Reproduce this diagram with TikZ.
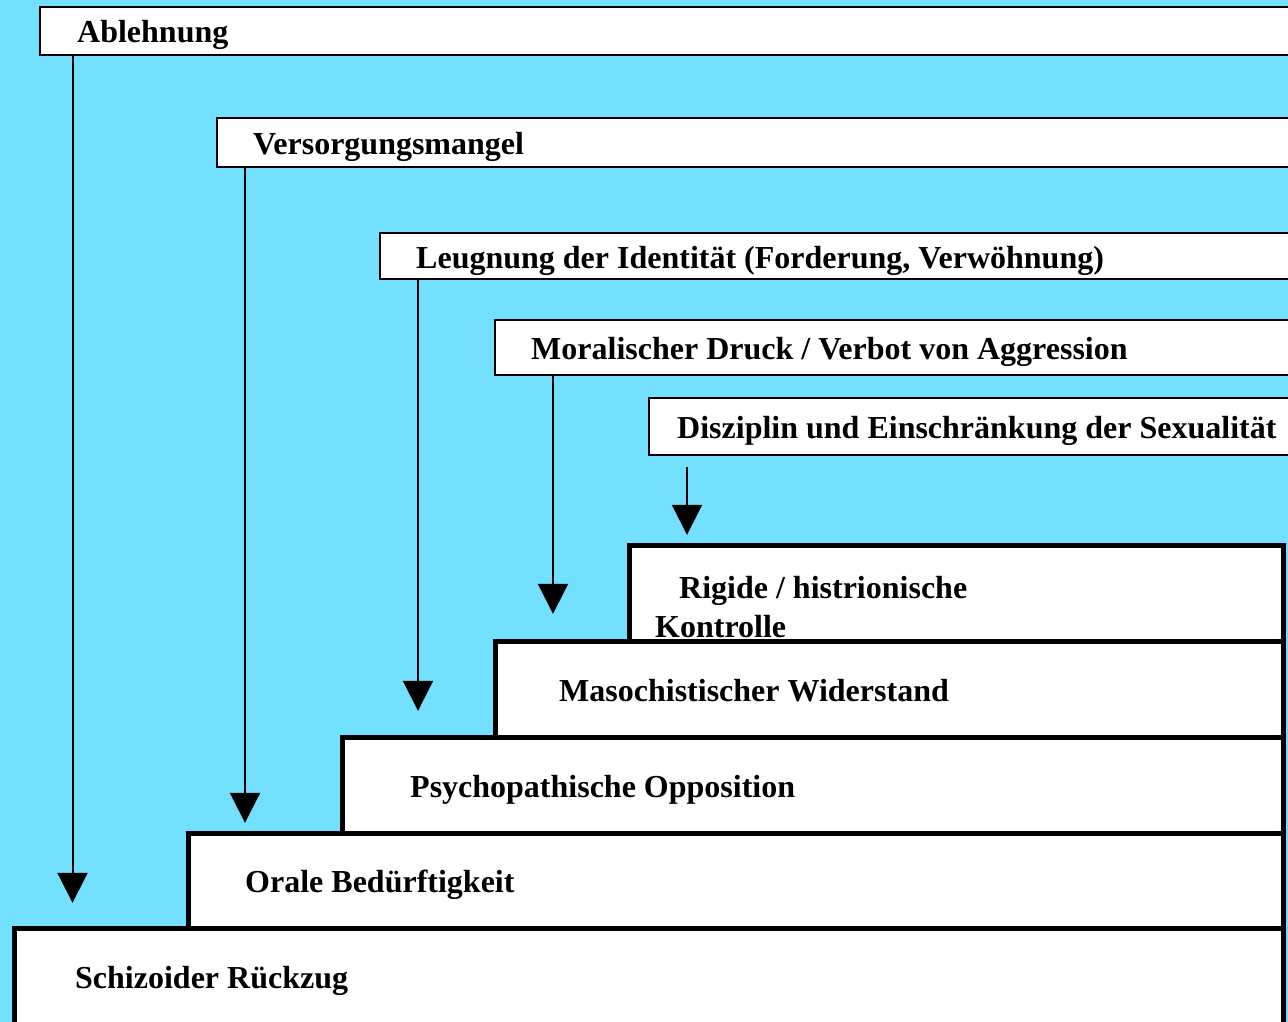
\documentclass[tikz,border=0pt]{standalone}
\usepackage{fontspec}
\setmainfont{Liberation Serif}
\usetikzlibrary{arrows.meta}
\definecolor{bgcyan}{RGB}{115,224,255}
\tikzset{
  topbox/.style={draw=black,fill=white,line width=2pt},
  stepbox/.style={draw=black,fill=white,line width=5pt},
  lbl/.style={anchor=base west,inner sep=0pt,font=\bfseries\fontsize{32}{38}\selectfont},
  arr/.style={line width=2pt,-{Triangle[width=30pt,length=30pt]}},
  anc/.style={inner sep=0pt,minimum size=0pt}
}
\begin{document}
\begin{tikzpicture}[x=1pt,y=-1pt]
\useasboundingbox (0,0) rectangle (1288,1022);
\fill[bgcyan] (0,0) rectangle (1288,1022);
\clip (0,0) rectangle (1288,1022);
% top boxes (causes)
\draw[topbox] (40,7) rectangle (1310,55);
\node[anc] (b1) at (72.5,55) {};
\node[lbl] (t1) at (77,43) {Ablehnung};
\draw[topbox] (217,118) rectangle (1310,167);
\node[anc] (b2) at (245,167) {};
\node[lbl] (t2) at (253,154) {Versorgungsmangel};
\draw[topbox] (380,233) rectangle (1310,279);
\node[anc] (b3) at (418,279) {};
\node[lbl] (t3) at (416,268) {Leugnung der Identität (Forderung, Verwöhnung)};
\draw[topbox] (495,320) rectangle (1310,375);
\node[anc] (b4) at (553,375) {};
\node[lbl] (t4) at (531,359) {Moralischer Druck / Verbot von Aggression};
\draw[topbox] (649,398) rectangle (1310,455);
\node[anc] (b5) at (687,467) {};
\node[lbl] (t5) at (677,438) {Disziplin und Einschränkung der Sexualität};
% bottom steps (results)
\draw[stepbox] (629,545) rectangle (1283,641);
\node[lbl] (s5a) at (679,598) {Rigide / histrionische};
\node[lbl] (s5b) at (655,637) {Kontrolle};
\draw[stepbox] (495,641) rectangle (1283,737);
\node[lbl] (s4) at (559,701) {Masochistischer Widerstand};
\draw[stepbox] (342,737) rectangle (1283,833);
\node[lbl] (s3) at (410,797) {Psychopathische Opposition};
\draw[stepbox] (188,833) rectangle (1283,928);
\node[lbl] (s2) at (245,892) {Orale Bedürftigkeit};
\draw[stepbox] (14,928) rectangle (1283,1040);
\node[lbl] (s1) at (75,988) {Schizoider Rückzug};
% arrow tips
\node[anc] (e1) at (72.5,903) {};
\node[anc] (e2) at (245,823) {};
\node[anc] (e3) at (418,711) {};
\node[anc] (e4) at (553,614) {};
\node[anc] (e5) at (687,535) {};
\draw[arr] (b1) -- (e1);
\draw[arr] (b2) -- (e2);
\draw[arr] (b3) -- (e3);
\draw[arr] (b4) -- (e4);
\draw[arr] (b5) -- (e5);
\end{tikzpicture}
\end{document}
